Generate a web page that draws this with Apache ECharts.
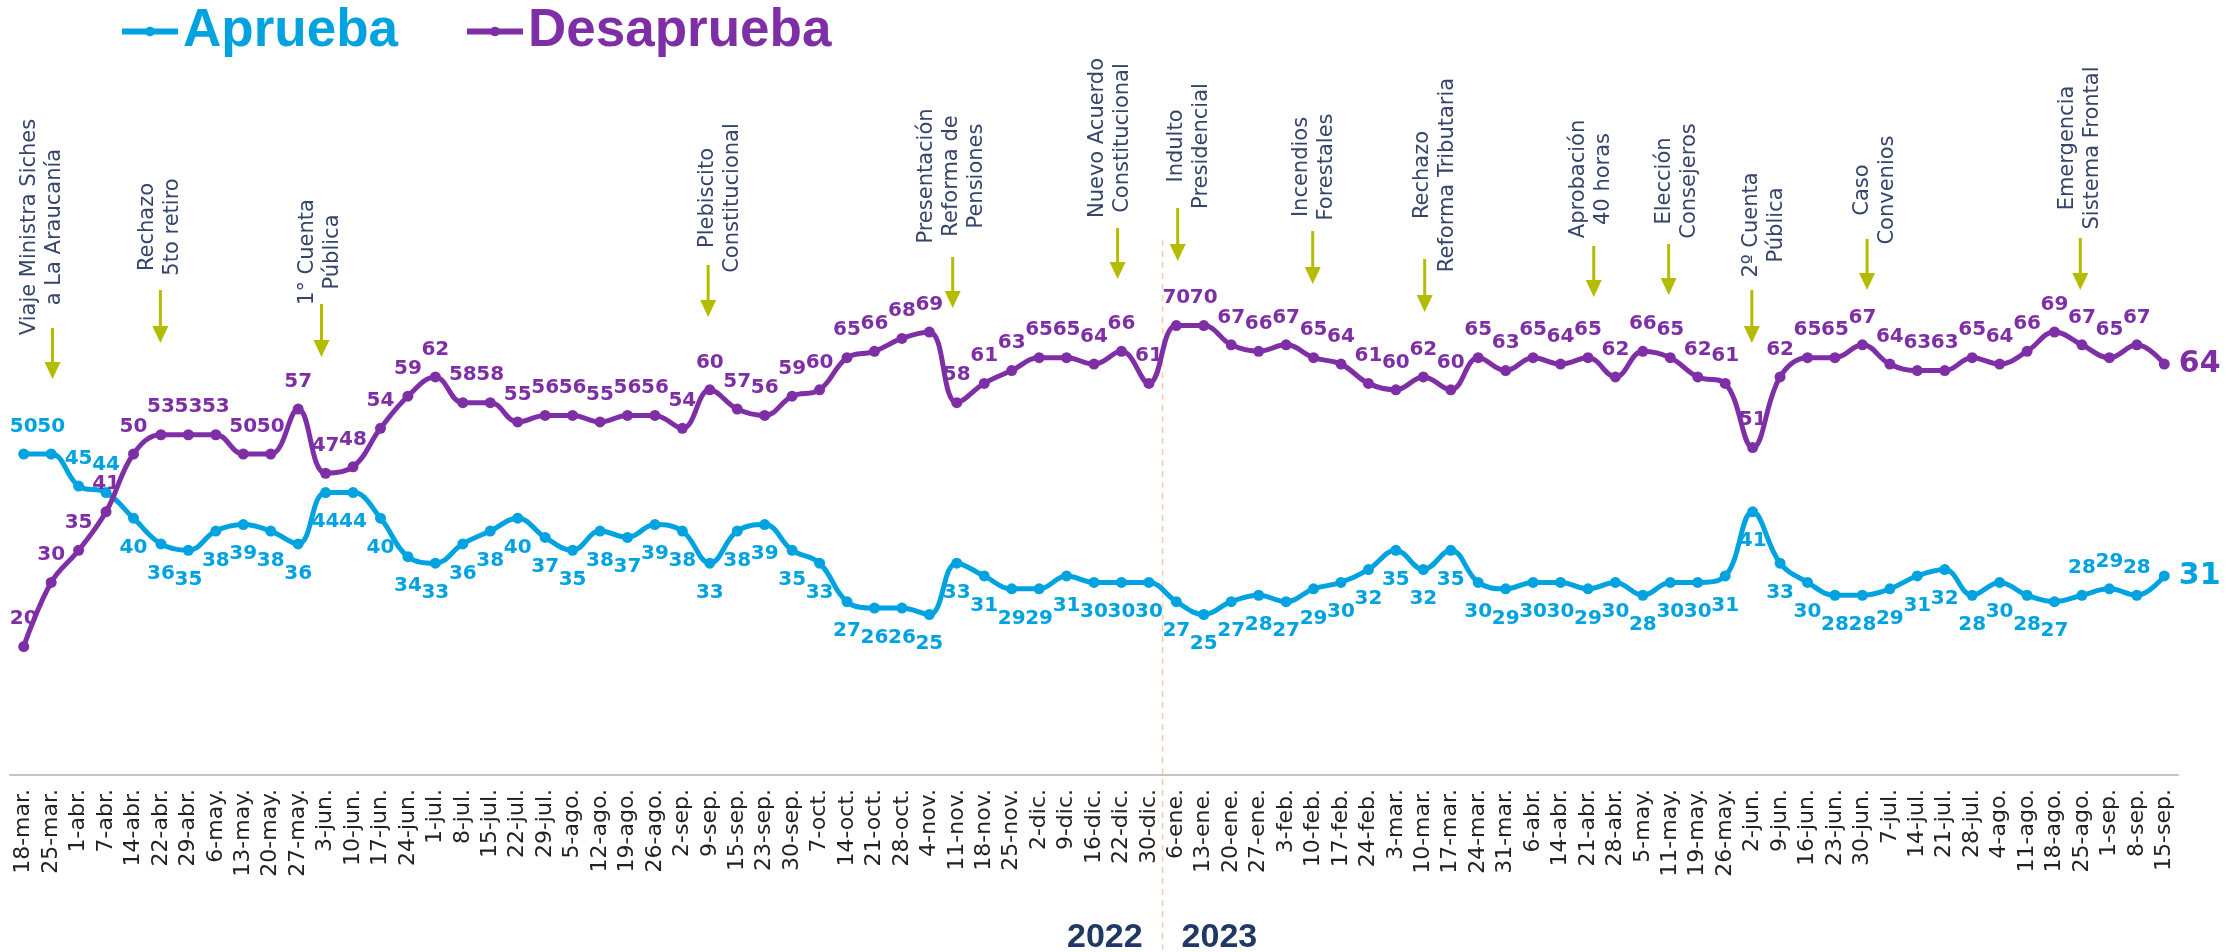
<!DOCTYPE html>
<html>
<head>
<meta charset="utf-8">
<title>Aprueba / Desaprueba</title>
<script src="https://cdn.jsdelivr.net/npm/echarts@6/dist/echarts.min.js"></script>
<style>
  html, body { margin: 0; padding: 0; background: #ffffff; }
  #chart { width: 2239px; height: 952px; }
</style>
</head>
<body>
<div id="chart"></div>
<script>
// semanas de medición (2022 -> 2023)
const semanas = [
  "18-mar.", "25-mar.", "1-abr.", "7-abr.", "14-abr.", "22-abr.", "29-abr.", "6-may.", "13-may.", "20-may.",
  "27-may.", "3-jun.", "10-jun.", "17-jun.", "24-jun.", "1-jul.", "8-jul.", "15-jul.", "22-jul.", "29-jul.",
  "5-ago.", "12-ago.", "19-ago.", "26-ago.", "2-sep.", "9-sep.", "15-sep.", "23-sep.", "30-sep.", "7-oct.",
  "14-oct.", "21-oct.", "28-oct.", "4-nov.", "11-nov.", "18-nov.", "25-nov.", "2-dic.", "9-dic.", "16-dic.",
  "22-dic.", "30-dic.", "6-ene.", "13-ene.", "20-ene.", "27-ene.", "3-feb.", "10-feb.", "17-feb.", "24-feb.",
  "3-mar.", "10-mar.", "17-mar.", "24-mar.", "31-mar.", "6-abr.", "14-abr.", "21-abr.", "28-abr.", "5-may.",
  "11-may.", "19-may.", "26-may.", "2-jun.", "9-jun.", "16-jun.", "23-jun.", "30-jun.", "7-jul.", "14-jul.",
  "21-jul.", "28-jul.", "4-ago.", "11-ago.", "18-ago.", "25-ago.", "1-sep.", "8-sep.", "15-sep."
];

const aprueba = [
  50, 50, 45, 44, 40, 36, 35, 38, 39, 38,
  36, 44, 44, 40, 34, 33, 36, 38, 40, 37,
  35, 38, 37, 39, 38, 33, 38, 39, 35, 33,
  27, 26, 26, 25, 33, 31, 29, 29, 31, 30,
  30, 30, 27, 25, 27, 28, 27, 29, 30, 32,
  35, 32, 35, 30, 29, 30, 30, 29, 30, 28,
  30, 30, 31, 41, 33, 30, 28, 28, 29, 31,
  32, 28, 30, 28, 27, 28, 29, 28, 31
];

const desaprueba = [
  20, 30, 35, 41, 50, 53, 53, 53, 50, 50,
  57, 47, 48, 54, 59, 62, 58, 58, 55, 56,
  56, 55, 56, 56, 54, 60, 57, 56, 59, 60,
  65, 66, 68, 69, 58, 61, 63, 65, 65, 64,
  66, 61, 70, 70, 67, 66, 67, 65, 64, 61,
  60, 62, 60, 65, 63, 65, 64, 65, 62, 66,
  65, 62, 61, 51, 62, 65, 65, 67, 64, 63,
  63, 65, 64, 66, 69, 67, 65, 67, 64
];

// hitos: semana (índice, puede ser fraccional) y texto
const hitoSemana = [1.05, 4.98, 10.85, 24.94, 33.85, 39.86, 42.05, 46.97, 51.05, 57.21, 59.94, 62.97, 67.17, 74.94];
const hitoTexto = [
  "Viaje Ministra Siches\na La Araucanía",
  "Rechazo\n5to retiro",
  "1° Cuenta\nPública",
  "Plebiscito\nConstitucional",
  "Presentación\nReforma de\nPensiones",
  "Nuevo Acuerdo\nConstitucional",
  "Indulto\nPresidencial",
  "Incendios\nForestales",
  "Rechazo\nReforma Tributaria",
  "Aprobación\n40 horas",
  "Elección\nConsejeros",
  "2º Cuenta\nPública",
  "Caso\nConvenios",
  "Emergencia\nSistema Frontal"
];
const anios = ["2022", "2023"];

// layout de las flechas / textos (pixeles)
const hitoLayout = [
  { dx: -10, cy: 227, top: 328, tip: 379 },
  { dx: 0, cy: 227, top: 290, tip: 343 },
  { dx: -1, cy: 252, top: 304, tip: 357 },
  { dx: 12, cy: 198, top: 265, tip: 317 },
  { dx: -1, cy: 176, top: 257, tip: 308 },
  { dx: -8, cy: 138, top: 228, tip: 279 },
  { dx: 11, cy: 146, top: 208, tip: 261 },
  { dx: 1, cy: 167, top: 231, tip: 284 },
  { dx: 10, cy: 175, top: 259, tip: 312 },
  { dx: -3, cy: 179, top: 246, tip: 297 },
  { dx: 8, cy: 181, top: 244, tip: 295 },
  { dx: 12, cy: 225, top: 290, tip: 343 },
  { dx: 8, cy: 190, top: 239, tip: 290 },
  { dx: 0, cy: 148, top: 238, tip: 290 }
];
// etiquetas de Aprueba que van sobre el punto
const apruebaArriba = [0, 1, 2, 3, 75, 76, 77];

const AZUL = "#00a3e0";
const MORADO = "#7f2fa6";
const OLIVA = "#b4bc00";
const TEXTO = "#34446a";
const AZUL_OSCURO = "#1f3864";

function puntos(valores, arriba) {
  return valores.map((v, i) => {
    let item = { value: v };
    if (i === valores.length - 1) {
      item.label = { position: "right", distance: 9, fontSize: 30 };
    } else if (arriba && arriba.indexOf(i) >= 0) {
      item.label = { position: "top", distance: 12 };
    }
    return item;
  });
}

var myChart = echarts.init(document.getElementById("chart"));

let option = {
  animation: false,
  backgroundColor: "#ffffff",
  legend: {
    left: 114,
    top: 0,
    itemWidth: 56,
    itemHeight: 12,
    itemGap: 66,
    lineStyle: { width: 6 },
    textStyle: {
      fontSize: 53,
      fontWeight: "bold",
      fontFamily: "Liberation Sans"
    },
    data: [
      { name: "Aprueba", textStyle: { color: AZUL } },
      { name: "Desaprueba", textStyle: { color: MORADO } }
    ]
  },
  grid: {
    left: 10,
    right: 61,
    top: 133,
    bottom: 177
  },
  xAxis: {
    type: "category",
    data: semanas,
    boundaryGap: true,
    axisLine: {
      lineStyle: { color: "#c4c4c4", width: 2 }
    },
    axisTick: {
      length: 8,
      lineStyle: { color: "#c4c4c4", width: 1 }
    },
    axisLabel: {
      interval: 0,
      rotate: 90,
      margin: 14,
      fontSize: 22,
      color: "#222222",
      fontFamily: "DejaVu Sans"
    }
  },
  yAxis: {
    type: "value",
    min: 0,
    max: 100,
    show: false,
    splitLine: { show: false }
  },
  series: [
    {
      name: "Aprueba",
      type: "line",
      data: puntos(aprueba, apruebaArriba),
      smooth: 0.4,
      symbol: "circle",
      symbolSize: 11,
      lineStyle: { color: AZUL, width: 5 },
      itemStyle: { color: AZUL },
      label: {
        show: true,
        position: "bottom",
        distance: 14,
        color: AZUL,
        fontSize: 20,
        fontWeight: "bold",
        fontFamily: "DejaVu Sans"
      }
    },
    {
      name: "Desaprueba",
      type: "line",
      data: puntos(desaprueba, null),
      smooth: 0.4,
      symbol: "circle",
      symbolSize: 11,
      lineStyle: { color: MORADO, width: 5 },
      itemStyle: { color: MORADO },
      label: {
        show: true,
        position: "top",
        distance: 12,
        color: MORADO,
        fontSize: 20,
        fontWeight: "bold",
        fontFamily: "DejaVu Sans"
      }
    }
  ]
};

myChart.setOption(option);

// posición x (pixel) de una semana, admite índices fraccionales
function xDe(pos) {
  let i = Math.floor(pos);
  let f = pos - i;
  let x0 = myChart.convertToPixel({ xAxisIndex: 0 }, i);
  let x1 = myChart.convertToPixel({ xAxisIndex: 0 }, Math.min(i + 1, semanas.length - 1));
  return x0 + (x1 - x0) * f;
}

let graficos = [];
hitoSemana.forEach((s, k) => {
  let lay = hitoLayout[k];
  let x = xDe(s);
  graficos.push({
    type: "text",
    x: x + lay.dx,
    y: lay.cy,
    rotation: Math.PI / 2,
    style: {
      text: hitoTexto[k],
      fill: TEXTO,
      fontSize: 21,
      fontFamily: "DejaVu Sans",
      lineHeight: 25,
      align: "center",
      verticalAlign: "middle",
      textAlign: "center",
      textVerticalAlign: "middle"
    }
  });
  graficos.push({
    type: "line",
    shape: { x1: x, y1: lay.top, x2: x, y2: lay.tip - 14 },
    style: { stroke: OLIVA, lineWidth: 3 }
  });
  graficos.push({
    type: "polygon",
    shape: { points: [[x - 8, lay.tip - 17], [x + 8, lay.tip - 17], [x, lay.tip]] },
    style: { fill: OLIVA }
  });
});

// división 2022 / 2023
let xDiv = xDe(41.5);
graficos.push({
  type: "line",
  z: -1,
  shape: { x1: xDiv, y1: 240, x2: xDiv, y2: 952 },
  style: { stroke: "#f8cbad", lineWidth: 1.5, lineDash: [6, 5] }
});
graficos.push({
  type: "text",
  x: xDiv - 20,
  y: 921,
  style: {
    text: anios[0], fill: AZUL_OSCURO, fontSize: 34, fontWeight: "bold", fontFamily: "Liberation Sans",
    align: "right", verticalAlign: "top", textAlign: "right", textVerticalAlign: "top"
  }
});
graficos.push({
  type: "text",
  x: xDiv + 19,
  y: 921,
  style: {
    text: anios[1], fill: AZUL_OSCURO, fontSize: 34, fontWeight: "bold", fontFamily: "Liberation Sans",
    align: "left", verticalAlign: "top", textAlign: "left", textVerticalAlign: "top"
  }
});

myChart.setOption({ graphic: graficos });
</script>
</body>
</html>
